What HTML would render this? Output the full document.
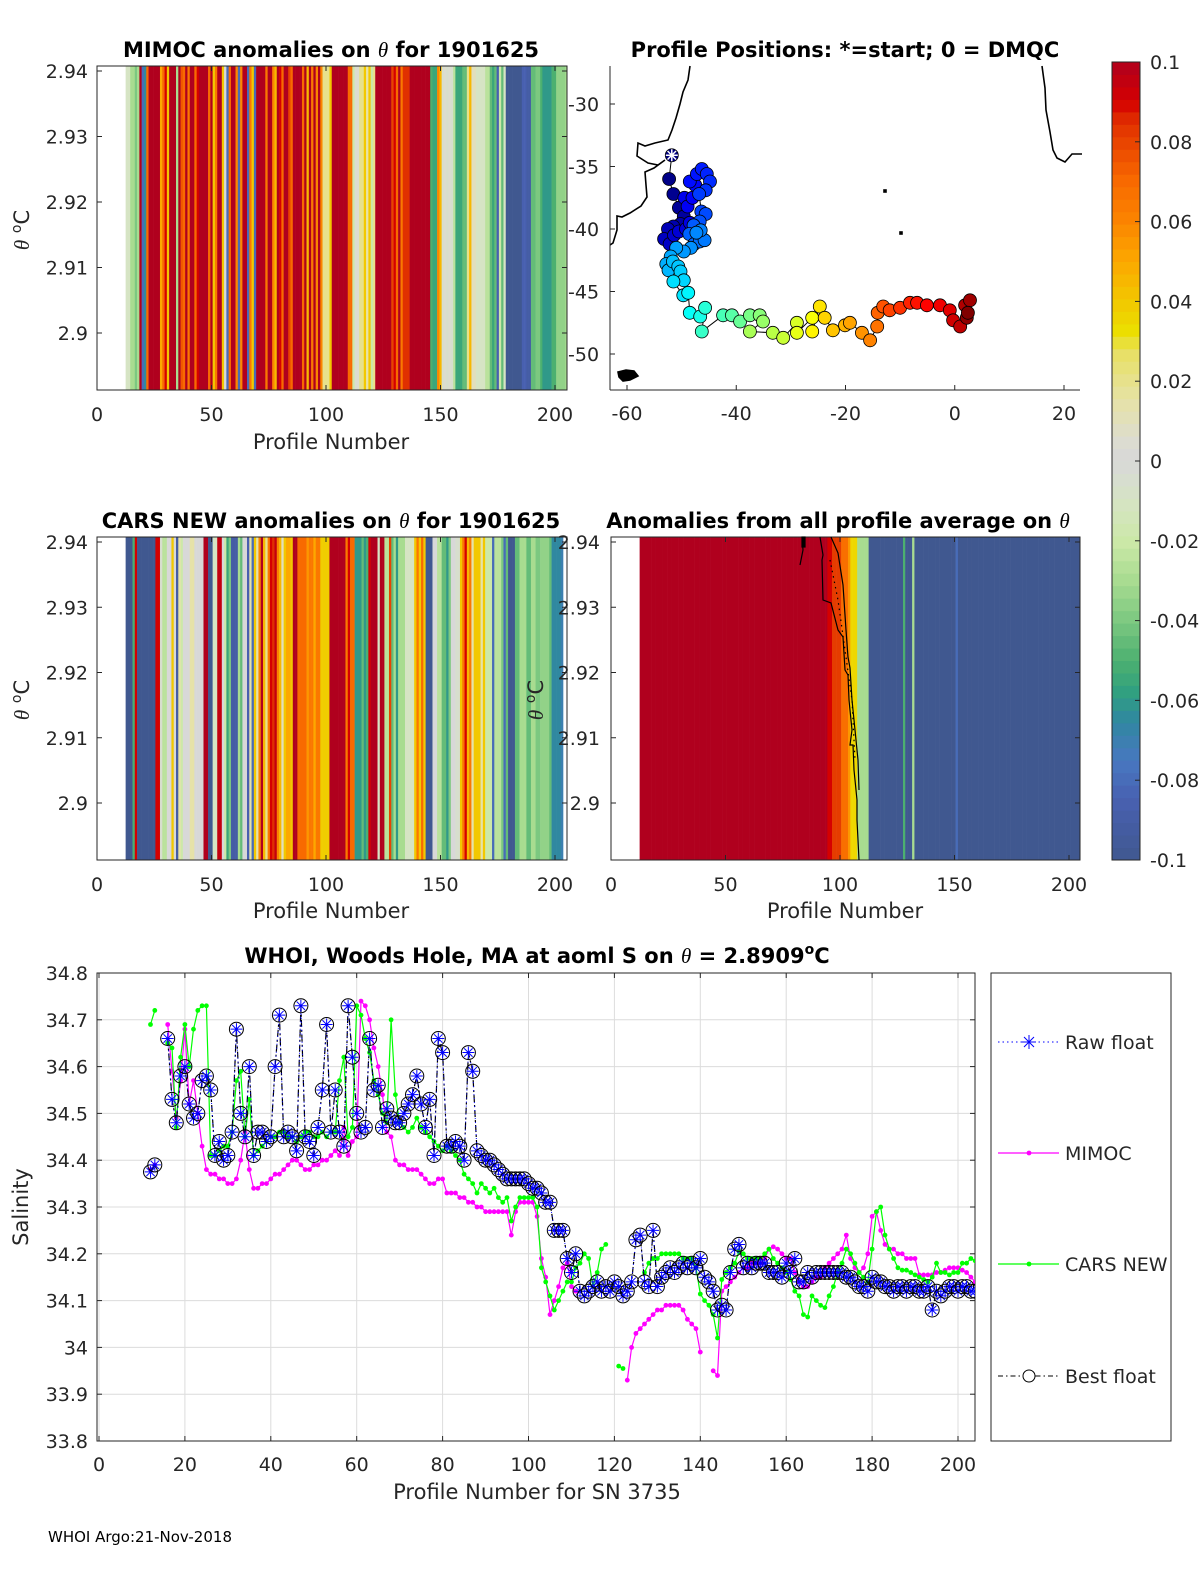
<!DOCTYPE html>
<html><head><meta charset="utf-8"><title>Float 1901625 anomalies</title>
<style>
html,body{margin:0;padding:0;background:#fff;width:1200px;height:1575px;overflow:hidden;}
svg{display:block;font-family:"DejaVu Sans","Liberation Sans",sans-serif;}
.tk{font-size:19px;fill:#262626;}
.ttl{font-size:21px;font-weight:bold;fill:#000;}
.lbl{font-size:21px;fill:#262626;}
</style></head>
<body>
<svg id="fig" width="1200" height="1575" viewBox="0 0 1200 1575" xmlns="http://www.w3.org/2000/svg">
<rect width="1200" height="1575" fill="#fff"/>
<text class="ttl" x="331" y="57" text-anchor="middle">MIMOC anomalies on <tspan font-family="Liberation Serif,serif" font-style="italic" font-weight="normal">θ</tspan>  for 1901625</text>
<text class="ttl" x="845" y="57" text-anchor="middle">Profile Positions: *=start; 0 = DMQC</text>
<text class="ttl" x="331" y="528" text-anchor="middle">CARS NEW anomalies on <tspan font-family="Liberation Serif,serif" font-style="italic" font-weight="normal">θ</tspan> for 1901625</text>
<text class="ttl" x="838" y="528" text-anchor="middle">Anomalies from all profile average on <tspan font-family="Liberation Serif,serif" font-style="italic" font-weight="normal">θ</tspan></text>
<text class="ttl" x="537" y="963" text-anchor="middle">WHOI, Woods Hole, MA at aoml S on <tspan font-family="Liberation Serif,serif" font-style="italic" font-weight="normal">θ</tspan> = 2.8909<tspan font-size="14" dy="-9">o</tspan><tspan dy="9">C</tspan></text>
<text x="48" y="1542" font-size="15" fill="#000">WHOI Argo:21-Nov-2018</text>
<g id="layer"></g>
</svg>
<script>
// ---------- data ----------
const firstProfile = 12;
const mimocAnom = [-0.01,-0.01,-0.03,-0.03,-0.04,-0.03,0.1,-0.08,-0.065,0.07,0.1,0.1,0.1,0.1,0.1,0.05,0.07,0.09,0.04,0.1,0.1,0.1,-0.03,0.1,0.075,0.07,0.1,0.065,0.1,0.1,0.07,0.09,0.1,0.1,0.1,0.1,0.07,0.1,0.04,0.065,0.1,0.1,0.04,0,-0.08,0.07,0.1,0.1,0.06,-0.08,0.06,0.1,0.1,-0.08,0.065,0.04,-0.08,0.1,0.1,0.1,0.1,0.065,0.1,0.1,0.06,0.045,0.1,0.09,0.07,0.1,0.1,0.08,0.07,0.1,0.1,0.1,0.1,0.07,0.1,0.045,0.1,0.065,0.1,0.06,0.1,0.06,0.02,0.02,0.02,0.04,0.1,0.1,0.1,0.1,0.1,0.1,0.1,0.07,0.07,-0.02,0.005,0.005,0.02,0.02,0.04,0.015,0.04,-0.02,0.02,0.1,0.1,0.1,0.1,0.1,0.1,0.1,0.08,0.09,0.07,0.1,0.065,0.085,0.085,0.085,0.1,0.1,0.1,0.1,0.1,0.1,0.1,0.1,0.1,-0.05,-0.055,-0.055,0.06,0.045,-0.005,0.005,-0.005,0.005,-0.005,-0.025,-0.055,-0.055,-0.055,-0.045,-0.045,0.02,0.045,0.01,0.01,-0.01,-0.01,-0.01,-0.01,-0.025,-0.025,-0.045,-0.055,-0.045,-0.085,-0.02,-0.045,-0.01,-0.1,-0.1,-0.1,-0.1,-0.1,-0.1,-0.1,-0.085,-0.085,-0.09,-0.09,-0.045,-0.045,-0.04,-0.04,-0.05,-0.06,-0.06,-0.06,-0.06,-0.05,-0.05,-0.035,-0.035,-0.035,-0.035,-0.03,-0.03];
const carsAnom = [-0.1,-0.1,-0.1,-0.05,0.09,-0.1,-0.1,-0.1,-0.1,-0.1,-0.1,-0.1,-0.1,0.09,0.09,-0.005,-0.025,-0.025,0,0,0.04,0,-0.09,0.015,-0.02,0,0,0,0.015,0.015,0,0,0,0,0.1,0.1,-0.1,-0.1,-0.01,-0.01,0.095,0.095,0,-0.02,-0.055,-0.04,-0.09,-0.09,-0.09,-0.03,-0.045,0,0,-0.085,0.015,-0.08,0.04,0.015,0.06,0.1,0.045,0.02,0.065,0.09,0.085,0.095,0.06,0.045,0.01,0.04,0.05,0.05,0.04,0.1,0.1,0.07,0.07,0.07,0.07,0.055,0.065,0.065,0.05,0.065,0.065,0.038,0.038,0.038,0.038,0.1,0.1,0.1,0.1,0.1,0.1,0.1,0.065,0.09,0.07,0.07,-0.06,-0.06,-0.06,-0.045,-0.06,-0.05,0.09,0.1,0.1,0.1,-0.01,0.1,0.1,-0.025,-0.025,0.08,-0.045,-0.03,-0.06,-0.03,-0.03,-0.03,-0.01,-0.01,-0.01,-0.01,0.04,0.065,0.04,0.07,0.04,-0.1,-0.1,-0.1,0,0,-0.025,-0.025,-0.045,-0.045,-0.06,-0.04,0,0,-0.005,-0.005,0.04,0.065,0.09,0.045,0.065,0.015,0.04,0.04,0.04,0.015,0.04,-0.02,-0.02,-0.02,-0.08,-0.025,-0.025,-0.025,-0.04,-0.08,-0.045,-0.1,-0.1,-0.1,-0.045,-0.045,-0.03,-0.03,-0.03,-0.045,-0.045,-0.03,-0.03,-0.04,-0.04,-0.035,-0.035,-0.035,-0.035,-0.045,-0.065,-0.065,-0.065,-0.065,-0.07];
// all-profile-average anomalies as runs: [value, number of profiles]
const avgAnomRuns = [[0.1,82],[0.09,2],[0.082,4],[0.068,3],[0.055,1],[0.035,3],[-0.03,5],[-0.1,15],[-0.05,1],[-0.1,3],[-0.03,1],[-0.1,18],[-0.08,1],[-0.1,55]];
const mapLon = [-51.8,-52.3,-51.5,-50.5,-49.6,-50.2,-51.5,-52.5,-53.2,-52.2,-51.4,-50.5,-49.2,-48.5,-49.5,-48.9,-48.0,-47.5,-48.5,-47.2,-46.3,-45.4,-44.8,-45.6,-46.8,-46.4,-45.6,-46.7,-47.8,-48.6,-47.7,-46.7,-45.8,-46.5,-47.3,-48.3,-49.6,-51.0,-52.0,-52.8,-52.4,-51.6,-50.6,-50.2,-49.6,-51.5,-49.7,-48.8,-48.5,-46.6,-45.7,-46.3,-42.4,-40.8,-39.3,-37.5,-35.7,-35.1,-37.5,-33.3,-31.4,-28.9,-28.9,-26.1,-26.1,-24.7,-23.8,-22.3,-20.1,-19.2,-17.0,-15.5,-14.2,-14.1,-13.1,-11.9,-10.0,-8.2,-6.9,-5.1,-2.7,-0.9,-0.3,1.0,1.9,2.8,2.2,2.4];
const mapLat = [-34.1,-36.0,-37.2,-38.3,-39.0,-39.6,-39.8,-40.0,-40.8,-41.2,-40.5,-40.2,-40.0,-39.5,-37.5,-38.2,-37.5,-36.5,-36.2,-35.6,-35.2,-35.6,-36.2,-36.9,-37.2,-38.6,-38.8,-39.4,-39.7,-40.4,-41.2,-41.0,-40.9,-40.1,-40.3,-41.5,-41.8,-41.5,-42.2,-42.8,-43.3,-42.6,-43.0,-43.4,-44.1,-44.2,-45.3,-45.1,-46.7,-47.0,-46.3,-48.2,-46.9,-46.9,-47.4,-46.9,-46.9,-47.4,-48.2,-48.3,-48.7,-47.5,-48.3,-47.1,-48.2,-46.2,-47.1,-48.1,-47.7,-47.5,-48.3,-48.9,-47.8,-46.7,-46.2,-46.5,-46.3,-45.9,-45.9,-46.1,-46.1,-46.5,-47.3,-47.8,-46.1,-45.7,-47.1,-46.7];
const salProfiles0 = 12;
const bestS = [34.375,34.39,null,null,34.66,34.53,34.48,34.58,34.60,34.52,34.49,34.50,34.57,34.58,34.55,34.41,34.44,34.40,34.41,34.46,34.68,34.50,34.45,34.60,34.41,34.46,34.46,34.44,34.45,34.60,34.71,34.45,34.46,34.45,34.42,34.73,34.45,34.44,34.41,34.47,34.55,34.69,34.46,34.55,34.46,34.43,34.73,34.62,34.50,34.46,34.47,34.66,34.55,34.56,34.47,34.51,34.49,34.48,34.48,34.50,34.52,34.54,34.58,34.52,34.47,34.53,34.41,34.66,34.63,34.43,34.43,34.44,34.43,34.40,34.63,34.59,34.42,34.41,34.40,34.40,34.39,34.38,34.37,34.36,34.36,34.36,34.36,34.36,34.35,34.34,34.34,34.33,34.31,34.31,34.25,34.25,34.25,34.19,34.16,34.20,34.12,34.11,34.12,34.13,34.14,34.12,34.13,34.12,34.14,34.13,34.11,34.12,34.14,34.23,34.24,34.14,34.13,34.25,34.13,34.15,34.16,34.17,34.16,34.17,34.18,34.17,34.18,34.17,34.19,34.15,34.14,34.12,34.08,34.09,34.08,34.16,34.21,34.22,34.17,34.18,34.17,34.18,34.18,34.18,34.16,34.16,34.16,34.15,34.18,34.16,34.19,34.14,34.14,34.16,34.15,34.16,34.16,34.16,34.16,34.16,34.16,34.16,34.15,34.15,34.14,34.13,34.13,34.12,34.15,34.14,34.14,34.13,34.13,34.12,34.13,34.13,34.12,34.13,34.13,34.12,34.12,34.13,34.08,34.12,34.11,34.12,34.13,34.13,34.12,34.13,34.13,34.12,34.12];
const mimocS = [34.38,34.39,null,null,34.69,34.59,34.49,34.57,34.68,34.52,34.57,34.50,34.43,34.38,34.37,34.37,34.36,34.36,34.35,34.35,34.36,34.40,34.46,34.38,34.34,34.34,34.35,34.35,34.36,34.37,34.37,34.38,34.39,34.40,34.40,34.39,34.38,34.38,34.39,34.39,34.40,34.40,34.41,34.42,34.41,34.47,34.41,34.44,34.45,34.74,34.73,34.70,34.64,34.60,34.54,34.46,34.45,34.40,34.39,34.39,34.38,34.38,34.38,34.37,34.36,34.35,34.35,34.36,34.36,34.33,34.33,34.33,34.32,34.32,34.31,34.31,34.30,34.30,34.29,34.29,34.29,34.29,34.29,34.29,34.24,34.29,34.31,34.31,34.31,34.31,34.28,34.19,34.15,34.07,34.10,34.13,34.17,34.18,34.13,34.12,null,null,null,null,null,null,null,null,null,null,null,33.93,34.00,34.03,34.04,34.05,34.06,34.07,34.08,34.08,34.09,34.09,34.09,34.09,34.08,34.06,34.05,34.04,33.99,null,null,33.95,33.94,34.12,34.13,34.14,34.15,34.16,34.17,34.17,34.18,34.18,34.18,34.19,34.21,34.215,34.21,34.20,34.19,34.19,34.16,34.14,34.13,34.13,34.14,34.15,34.15,34.17,34.18,34.19,34.20,34.21,34.24,34.19,34.17,34.16,34.17,34.20,34.28,34.29,34.25,34.22,34.21,34.21,34.20,34.20,34.19,34.19,34.19,34.155,34.155,34.155,34.155,34.16,34.16,34.165,34.17,34.17,34.17,34.165,34.16,34.15,34.14];
const carsS = [34.69,34.72,null,null,34.65,34.64,34.47,34.62,34.69,34.60,34.68,34.72,34.73,34.73,34.41,34.41,34.42,34.43,34.43,34.46,34.57,34.59,34.45,34.53,34.41,34.42,34.43,34.44,34.45,34.45,34.46,34.46,34.45,34.45,34.44,34.45,34.46,34.46,34.45,34.45,34.46,34.45,34.46,34.46,34.57,34.62,34.45,34.47,34.73,34.71,34.66,34.63,34.57,34.54,34.50,34.48,34.70,34.54,34.48,34.47,34.46,34.47,34.49,34.47,34.46,34.45,34.44,34.43,34.42,34.43,34.42,34.41,34.40,34.37,34.36,34.35,34.33,34.35,34.34,34.33,34.34,34.32,34.31,34.32,34.27,34.30,34.32,34.32,34.32,34.32,34.30,34.17,34.14,34.11,34.08,34.10,34.12,34.14,34.14,34.17,34.18,34.20,34.19,34.13,34.16,34.21,34.22,null,null,33.96,33.955,null,null,null,null,34.16,34.18,34.19,34.19,34.20,34.20,34.20,34.20,34.20,34.19,34.19,34.19,34.17,34.114,34.10,34.09,34.07,34.02,34.145,34.16,34.17,34.18,34.205,34.20,34.19,34.19,34.19,34.19,34.20,34.21,34.19,34.18,34.17,34.16,34.145,34.12,34.11,34.07,34.065,34.11,34.10,34.09,34.085,34.11,34.13,34.16,34.18,34.21,34.20,34.18,34.16,34.15,34.14,34.21,34.29,34.30,34.24,34.21,34.19,34.17,34.165,34.165,34.16,34.155,34.15,34.145,34.14,34.15,34.18,34.16,34.16,34.155,34.16,34.16,34.18,34.18,34.19,34.185];
const thetaTicks = [2.9,2.91,2.92,2.93,2.94];
const profTicks = [0,50,100,150,200];
const lonTicks = [-60,-40,-20,0,20];
const latTicks = [-30,-35,-40,-45,-50];
const cbTicks = [0.1,0.08,0.06,0.04,0.02,0,-0.02,-0.04,-0.06,-0.08,-0.1];
const salXTicks = [0,20,40,60,80,100,120,140,160,180,200];
const salYTicks = [33.8,33.9,34.0,34.1,34.2,34.3,34.4,34.5,34.6,34.7,34.8];

// ---------- helpers ----------
const NS = "http://www.w3.org/2000/svg";
const layer = document.getElementById('layer');
function mk(tag, attrs, parent){ const e=document.createElementNS(NS,tag); for(const k in attrs) e.setAttribute(k,attrs[k]); (parent||layer).appendChild(e); return e; }
const stops = [[-0.1,[64,88,144]],[-0.085,[72,96,176]],[-0.075,[72,120,192]],[-0.065,[48,136,160]],[-0.058,[48,160,128]],[-0.05,[76,176,112]],[-0.04,[124,200,128]],[-0.03,[168,220,144]],[-0.02,[204,232,168]],[-0.01,[214,228,196]],[0,[216,216,216]],[0.005,[220,220,208]],[0.015,[230,226,168]],[0.028,[232,224,96]],[0.032,[235,224,0]],[0.04,[242,200,0]],[0.05,[252,168,0]],[0.06,[251,133,0]],[0.07,[248,106,0]],[0.085,[224,48,0]],[0.09,[213,0,0]],[0.1,[176,0,30]]];
function cmap(v){ if(v<=stops[0][0]) return 'rgb('+stops[0][1]+')'; for(let i=1;i<stops.length;i++){ if(v<=stops[i][0]){ const a=stops[i-1],b=stops[i],t=(v-a[0])/(b[0]-a[0]); return 'rgb('+a[1].map((c,j)=>Math.round(c+(b[1][j]-c)*t)).join(',')+')'; } } return 'rgb('+stops[stops.length-1][1]+')'; }
function jet(t){ const r=Math.max(0,Math.min(1,1.5-Math.abs(4*t-3))), g=Math.max(0,Math.min(1,1.5-Math.abs(4*t-2))), b=Math.max(0,Math.min(1,1.5-Math.abs(4*t-1))); return 'rgb('+[r,g,b].map(c=>Math.round(c*255)).join(',')+')'; }
function txt(x,y,s,cls,anchor,parent){ const e=mk('text',{x:x,y:y,'class':cls,'text-anchor':anchor||'middle'},parent); e.textContent=s; return e; }

// ---------- stripe panel ----------
function stripePanel(name, x0, y0, w, h, values, yTickPos, showYTicks, yTickX){
  const g = mk('g',{});
  
  
  const xs = p => x0 + p*(458/200);
  const clip = mk('clipPath',{id:'clip-'+name},g); mk('rect',{x:x0,y:y0,width:w,height:h},clip);
  const sg = mk('g',{'clip-path':'url(#clip-'+name+')'},g);
  values.forEach((v,i)=>{
    const p = firstProfile + i;
    const r = mk('rect',{x:xs(p+0.5).toFixed(2),y:y0,width:(458/200+0.3).toFixed(2),height:h,fill:cmap(v)},sg);
    
    
  });
  mk('rect',{x:x0,y:y0,width:w,height:h,fill:'none',stroke:'#262626','stroke-width':1},g);
  profTicks.forEach(t=>{ const x=xs(t); mk('line',{x1:x,y1:y0+h,x2:x,y2:y0+h-5,stroke:'#262626'},g); mk('line',{x1:x,y1:y0,x2:x,y2:y0+5,stroke:'#262626'},g); txt(x,y0+h+31,String(t),'tk','middle',g); });
  const yf = v => yTickPos(v);
  thetaTicks.forEach(t=>{ const y=yf(t); mk('line',{x1:x0,y1:y,x2:x0+5,y2:y,stroke:'#262626'},g); mk('line',{x1:x0+w,y1:y,x2:x0+w-5,y2:y,stroke:'#262626'},g); txt(yTickX,y+7,t.toFixed(2).replace(/0$/,''),'tk','end',g); });
  return {g, xs};
}
const yTop = v => 333 - (v-2.9)*6550;
const yMid = v => 803 - (v-2.9)*6525;
stripePanel('mimoc-anomaly-panel',97,66,470,324,mimocAnom,yTop,true,88);
stripePanel('cars-anomaly-panel',97,537,470,323,carsAnom,yMid,true,88);
// avg panel
const avgVals = [];
avgAnomRuns.forEach(r=>{ for(let k=0;k<r[1];k++) avgVals.push(r[0]); });
const pr = stripePanel('average-anomaly-panel',611,537,469,323,avgVals,yMid,true,600);
// contour overlay
const ctr = mk('g',{fill:'none',stroke:'#000','stroke-width':1.2});


mk('path',{d:'M802,537 L803,550 L800,565 M820,537 L823,555 L822,560 L823,600 L831,603 L838,630 L843,637 L845,670 L848,675 L849,700 L852,730 L850,745 L853,745 L854,770 L857,800 L857,820 L859,860'},ctr);
mk('path',{d:'M831,537 L838,553 L843,585 L846,630 L848,657 L850,668 L852,700 L856,740 L858,760 L859,790',stroke:'#000'},ctr);
mk('path',{d:'M830,560 L838,600 L845,650 L852,700 L855,760','stroke-dasharray':'1.5,4'},ctr);
mk('rect',{x:802,y:537,width:3,height:10,fill:'#000'},ctr);

// axis labels
function rotLabel(x,y,html,name){ const t=mk('text',{x:0,y:0,'class':'lbl','text-anchor':'middle',transform:'translate('+x+','+y+') rotate(-90)'}); t.innerHTML=html;   return t; }
const th='<tspan font-family="Liberation Serif,serif" font-style="italic">θ</tspan> <tspan font-size="14" dy="-8">o</tspan><tspan dy="8">C</tspan>';
rotLabel(29,230,th,'mimoc-y-label');
rotLabel(29,700,th,'cars-y-label');
rotLabel(543,700,th,'average-y-label');
[['mimoc-x-label',331,449],['cars-x-label',331,918],['average-x-label',845,918]].forEach(a=>{ const t=txt(a[1],a[2],'Profile Number','lbl');   });

// ---------- map ----------
const lonX = lon => 627 + (lon+60)*5.4625;
const latY = lat => 104 - (lat+30)*12.5;
const mg = mk('g',{});


const coast = mk('g',{fill:'none',stroke:'#000','stroke-width':1.6},mg);


mk('path',{d:'M690,66 L688,80 L683,92 L680,104 L676,118 L672,130 L668,140 L655,143 L645,146 L638,143 L637,156 L648,163 L658,165 L665,160 L654,168 L645,172 L646,185 L647,197 L641,206 L630,213 L622,217 L617,216 L617,230 L613,243 L610,245'},coast);
mk('path',{d:'M1042,66 L1045,88 L1046,110 L1050,132 L1053,150 L1057,158 L1065,162 L1072,154 L1082,154'},coast);
mk('path',{d:'M618,372 L626,370 L634,371 L638,376 L630,380 L623,381 L619,377 Z',fill:'#000'},coast);
mk('rect',{x:884,y:190,width:2,height:2,fill:'#000'},coast);
mk('rect',{x:900,y:232,width:2,height:2,fill:'#000'},coast);
let trk='';
mapLon.forEach((lo,i)=>{ trk+=(i?'L':'M')+lonX(lo).toFixed(1)+','+latY(mapLat[i]).toFixed(1); });
const tl=mk('path',{d:trk,fill:'none',stroke:'#000','stroke-width':1},mg);


const nC = 46, nAll = mapLon.length;
mapLon.forEach((lo,i)=>{
  const t = i<nC ? 0.35*i/nC : 0.35+0.65*(i-nC)/(nAll-1-nC);
  const c = mk('circle',{cx:lonX(lo).toFixed(1),cy:latY(mapLat[i]).toFixed(1),r:6.5,fill:jet(t),stroke:'#000','stroke-width':0.8},mg);
  
  
});
// start asterisk
const sx=lonX(mapLon[0]), sy=latY(mapLat[0]);
const st=mk('g',{stroke:'#fff','stroke-width':1.5},mg);


[0,45,90,135].forEach(a=>{ const r=a*Math.PI/180; mk('line',{x1:sx-6*Math.cos(r),y1:sy-6*Math.sin(r),x2:sx+6*Math.cos(r),y2:sy+6*Math.sin(r)},st); });
mk('line',{x1:610,y1:66,x2:610,y2:390,stroke:'#262626'},mg);
mk('line',{x1:610,y1:390,x2:1080,y2:390,stroke:'#262626'},mg);
lonTicks.forEach(t=>{ const x=lonX(t); mk('line',{x1:x,y1:390,x2:x,y2:385,stroke:'#262626'},mg); txt(x,420,String(t),'tk','middle',mg); });
latTicks.forEach(t=>{ const y=latY(t); mk('line',{x1:610,y1:y,x2:615,y2:y,stroke:'#262626'},mg); txt(568,y+7,String(t),'tk','start',mg); });

// ---------- colorbar ----------
const cb = mk('g',{});


const cbY = v => 62 + (0.1-v)*3990;
for(let k=0;k<64;k++){ const v0=-0.1+k*0.2/64; const c=mk('rect',{x:1112,y:cbY(v0+0.2/64).toFixed(2),width:28,height:(0.2/64*3990+0.5).toFixed(2),fill:cmap(v0+0.1/64)},cb); }
mk('rect',{x:1112,y:62,width:28,height:798,fill:'none',stroke:'#262626'},cb);
cbTicks.forEach(t=>{ const y=cbY(t); mk('line',{x1:1135,y1:y,x2:1140,y2:y,stroke:'#262626'},cb); const s = t===0?'0':String(t).replace(/^(-?)0\./,'$10.'); txt(1150,y+7,s,'tk','start',cb); });

// ---------- salinity panel ----------
const sxp = p => 99 + p*4.295;
const syp = s => 973 + (34.8-s)*468;
const sg2 = mk('g',{});


salXTicks.forEach(t=>{ const x=sxp(t); mk('line',{x1:x,y1:973,x2:x,y2:1441,stroke:'#dcdcdc'},sg2); });
salYTicks.forEach(t=>{ const y=syp(t); mk('line',{x1:97,y1:y,x2:975,y2:y,stroke:'#dcdcdc'},sg2); });
mk('rect',{x:97,y:973,width:878,height:468,fill:'none',stroke:'#262626'},sg2);
salXTicks.forEach(t=>{ const x=sxp(t); mk('line',{x1:x,y1:1441,x2:x,y2:1436,stroke:'#262626'},sg2); mk('line',{x1:x,y1:973,x2:x,y2:978,stroke:'#262626'},sg2); txt(x,1471,String(t),'tk','middle',sg2); });
salYTicks.forEach(t=>{ const y=syp(t); mk('line',{x1:97,y1:y,x2:102,y2:y,stroke:'#262626'},sg2); mk('line',{x1:975,y1:y,x2:970,y2:y,stroke:'#262626'},sg2); const s=(Math.abs(t-34)<1e-9)?'34':t.toFixed(1); txt(88,y+7,s,'tk','end',sg2); });
function seriesPath(arr){ let d='',pen=false; arr.forEach((v,i)=>{ if(v===null){pen=false;return;} d+=(pen?'L':'M')+sxp(salProfiles0+i).toFixed(1)+','+syp(v).toFixed(1); pen=true; }); return d; }
const clipS=mk('clipPath',{id:'clip-sal'},sg2); mk('rect',{x:97,y:973,width:878,height:468},clipS);
const plot=mk('g',{'clip-path':'url(#clip-sal)'},sg2);
function lineSeries(arr,color,name){ const p=mk('path',{d:seriesPath(arr),fill:'none',stroke:color,'stroke-width':1.2},plot);  
  arr.forEach((v,i)=>{ if(v===null) return; const c=mk('circle',{cx:sxp(salProfiles0+i).toFixed(1),cy:syp(v).toFixed(1),r:2.4,fill:color},plot);   }); }
lineSeries(mimocS,'#ff00ff','mimoc');
lineSeries(carsS,'#00ff00','cars-new');
const bp=mk('path',{d:seriesPath(bestS),fill:'none',stroke:'#000','stroke-width':1.2,'stroke-dasharray':'7,3,2,3'},plot);


const rp=mk('path',{d:seriesPath(bestS),fill:'none',stroke:'#0000ff','stroke-width':1,'stroke-dasharray':'1,3'},plot);


bestS.forEach((v,i)=>{ if(v===null) return; const x=sxp(salProfiles0+i), y=syp(v);
  const c=mk('circle',{cx:x.toFixed(1),cy:y.toFixed(1),r:7,fill:'none',stroke:'#000','stroke-width':1},plot);
  
  
  const a=mk('path',{d:'M'+(x-6)+','+y+'h12M'+x+','+(y-6)+'v12M'+(x-4.2)+','+(y-4.2)+'l8.4,8.4M'+(x-4.2)+','+(y+4.2)+'l8.4,-8.4',stroke:'#0000ff','stroke-width':1},plot);
  
  
});
const sxl=txt(537,1499,'Profile Number for SN 3735','lbl');


rotLabel(28,1207,'Salinity','salinity-y-label');

// legend
const lg=mk('g',{});


mk('rect',{x:991,y:973,width:180,height:468,fill:'#fff',stroke:'#262626'},lg);
function legText(s,y,name){ const t=txt(1065,y+7,s,'tk','start',lg); t.setAttribute('font-size','18');   }
mk('line',{x1:998,y1:1042,x2:1059,y2:1042,stroke:'#0000ff','stroke-dasharray':'1.5,3'},lg);
mk('path',{d:'M1022,1042h14M1029,1035v14M1024,1037l10,10M1024,1047l10,-10',stroke:'#0000ff'},lg);
legText('Raw float',1042,'legend-raw-float');
mk('line',{x1:998,y1:1153,x2:1059,y2:1153,stroke:'#ff00ff','stroke-width':1.2},lg);
mk('circle',{cx:1029,cy:1153,r:2.4,fill:'#ff00ff'},lg);
legText('MIMOC',1153,'legend-mimoc');
mk('line',{x1:998,y1:1264,x2:1059,y2:1264,stroke:'#00ff00','stroke-width':1.2},lg);
mk('circle',{cx:1029,cy:1264,r:2.4,fill:'#00ff00'},lg);
legText('CARS NEW',1264,'legend-cars-new');
mk('line',{x1:998,y1:1376,x2:1059,y2:1376,stroke:'#000','stroke-dasharray':'5,3,1.5,3'},lg);
mk('circle',{cx:1029,cy:1376,r:6,fill:'#fff',stroke:'#000'},lg);
legText('Best float',1376,'legend-best-float');
</script>
</body></html>
